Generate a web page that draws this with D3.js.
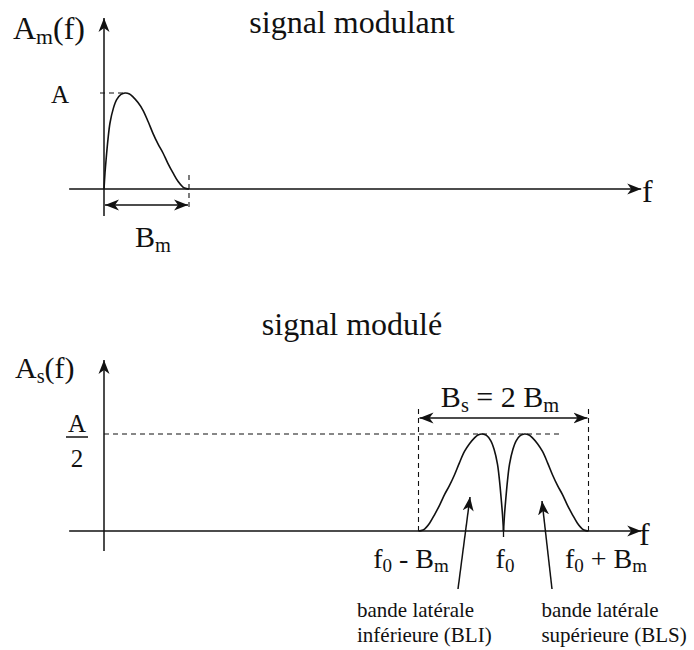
<!DOCTYPE html>
<html>
<head>
<meta charset="utf-8">
<script src="https://cdn.jsdelivr.net/npm/d3@7"></script>
<style>
  @font-face {
    font-family: "SerifLocal";
    src: local("Liberation Serif"), local("LiberationSerif"), local("LiberationSerif-Regular"), local("Times New Roman"), local("Tinos");
  }
</style>
</head>
<body style="margin:0">
<script>
// forme du spectre du signal modulant (f en unités de Bm, amplitude en unités de A)
const spectreF = [0, 0.012, 0.024, 0.047, 0.071, 0.11, 0.149, 0.2, 0.247, 0.3, 0.341, 0.4, 0.459, 0.52, 0.576, 0.635, 0.694, 0.75, 0.812, 0.87, 0.929, 0.97, 1];
const spectreA = [0, 0.17, 0.30, 0.52, 0.69, 0.84, 0.93, 0.985, 1.0, 0.99, 0.96, 0.90, 0.82, 0.70, 0.58, 0.47, 0.375, 0.27, 0.167, 0.08, 0.02, 0.004, 0];

const Bm = 1;
const f0 = 4.7;
const fMin = -0.41;
const fMax = 6.32;

const labelsBas = [
    { lignes: ["bande latérale", "inférieure (BLI)"], f: 3.0 },
    { lignes: ["bande latérale", "supérieure (BLS)"], f: 5.17 }
];

const width = 694, height = 650;

const svg = d3.select('body').append('svg')
    .attr('width', width)
    .attr('height', height);

// flèches
const defs = svg.append('defs');
defs.append('marker')
    .attr('id', 'fleche')
    .attr('viewBox', '-14 -7 16 14')
    .attr('refX', 0).attr('refY', 0)
    .attr('markerWidth', 16).attr('markerHeight', 14)
    .attr('markerUnits', 'userSpaceOnUse')
    .attr('orient', 'auto-start-reverse')
    .append('path')
    .attr('d', 'M0,0 L-14,-5.5 L-10,0 L-14,5.5 Z')
    .attr('fill', '#111');

const x = d3.scaleLinear().domain([0, Bm]).range([104, 189]);
const yHaut = d3.scaleLinear().domain([0, 1]).range([189, 93]);
const yBas = d3.scaleLinear().domain([0, 0.5]).range([531, 434]);

const pts = spectreF.map((f, i) => ({ f: f, a: spectreA[i] }));

function ligne(g, x1, y1, x2, y2, opts = {}) {
    const l = g.append('line')
        .attr('x1', x1).attr('y1', y1).attr('x2', x2).attr('y2', y2)
        .attr('stroke', '#111')
        .attr('stroke-width', opts.w || 1.5);
    if (opts.dash) l.attr('stroke-dasharray', opts.dash);
    if (opts.fin) l.attr('marker-end', 'url(#fleche)');
    if (opts.debut) l.attr('marker-start', 'url(#fleche)');
    return l;
}

function texte(g, xx, yy, parts, size, anchor) {
    const t = g.append('text')
        .attr('x', xx).attr('y', yy)
        .attr('font-size', size)
        .style('font-family', '"Liberation Serif", "SerifLocal", "Times New Roman", monospace')
        .attr('fill', '#111')
        .attr('text-anchor', anchor || 'start');
    if (typeof parts === 'string') return t.text(parts);
    parts.forEach(p => {
        const s = t.append('tspan').text(p.t);
        if (p.sub) s.attr('font-size', size * 0.68).attr('dy', size * 0.16);
        else if (p.back) s.attr('dy', -size * 0.16);
    });
    return t;
}

const dash = '5,4';

// ---------- signal modulant ----------
const gH = svg.append('g');

ligne(gH, x(0), 216, x(0), 18, { fin: true });
ligne(gH, x(fMin), yHaut(0), x(fMax), yHaut(0), { fin: true });

const pic = pts.reduce((m, d) => d.a > m.a ? d : m, pts[0]);
ligne(gH, x(0) - 4, yHaut(1), x(pic.f), yHaut(1), { dash: dash, w: 1.1 });
ligne(gH, x(Bm), yHaut(0) - 14, x(Bm), yHaut(0) + 18, { dash: dash, w: 1.1 });
ligne(gH, x(0) + 1, 205, x(Bm) - 1, 205, { fin: true, debut: true, w: 1.5 });

const courbeH = d3.line()
    .x(d => x(d.f))
    .y(d => yHaut(d.a))
    .curve(d3.curveCatmullRom.alpha(0.5));

gH.append('path')
    .datum(pts)
    .attr('d', courbeH)
    .attr('fill', 'none')
    .attr('stroke', '#111')
    .attr('stroke-width', 1.6);

texte(gH, 13, 39, [{ t: 'A' }, { t: 'm', sub: true }, { t: '(f)', back: true }], 32);
texte(gH, 51, 103, 'A', 25);
texte(gH, 135, 247, [{ t: 'B' }, { t: 'm', sub: true }], 30);
texte(gH, 352, 33, 'signal modulant', 32, 'middle');
texte(gH, 642, 202, 'f', 32);

// ---------- signal modulé ----------
const gB = svg.append('g');

ligne(gB, x(0), 551, x(0), 360, { fin: true });
ligne(gB, x(fMin), yBas(0), x(fMax), yBas(0), { fin: true });

ligne(gB, x(0), yBas(0.5), x(f0 + 0.68), yBas(0.5), { dash: dash, w: 1.1 });
ligne(gB, x(f0 - Bm), yBas(0), x(f0 - Bm), 405, { dash: dash, w: 1.1 });
ligne(gB, x(f0 + Bm), yBas(0), x(f0 + Bm), 405, { dash: dash, w: 1.1 });
ligne(gB, x(f0 - Bm) + 1, 418, x(f0 + Bm) - 1, 418, { fin: true, debut: true });
ligne(gB, x(f0), yBas(0), x(f0), yBas(0) + 6, { w: 1.3 });

const bli = pts.map(d => ({ f: f0 - d.f, a: d.a / 2 })).reverse();
const bls = pts.map(d => ({ f: f0 + d.f, a: d.a / 2 }));

const courbeB = d3.line()
    .x(d => x(d.f))
    .y(d => yBas(d.a))
    .curve(d3.curveCatmullRom.alpha(0.5));

gB.selectAll('path.bande')
    .data([bli, bls])
    .join('path')
    .attr('class', 'bande')
    .attr('d', courbeB)
    .attr('fill', 'none')
    .attr('stroke', '#111')
    .attr('stroke-width', 1.6);

// flèches vers les bandes
ligne(gB, 458, 589, 470, 497, { fin: true, w: 1.5 });
ligne(gB, 552, 589, 542, 501, { fin: true, w: 1.5 });

texte(gB, 15, 378, [{ t: 'A' }, { t: 's', sub: true }, { t: '(f)', back: true }], 30);
texte(gB, 77, 432, 'A', 25, 'middle');
ligne(gB, 66, 437, 88, 437, { w: 1.5 });
texte(gB, 77, 467, '2', 25, 'middle');

texte(gB, 352, 335, 'signal modulé', 32, 'middle');
texte(gB, 500, 407, [{ t: 'B' }, { t: 's', sub: true }, { t: ' = 2 B', back: true }, { t: 'm', sub: true }], 30, 'middle');
texte(gB, 639, 545, 'f', 32);

texte(gB, 411, 568, [{ t: 'f' }, { t: '0', sub: true }, { t: ' - B', back: true }, { t: 'm', sub: true }], 28, 'middle');
texte(gB, 505, 568, [{ t: 'f' }, { t: '0', sub: true }], 28, 'middle');
texte(gB, 606, 568, [{ t: 'f' }, { t: '0', sub: true }, { t: ' + B', back: true }, { t: 'm', sub: true }], 28, 'middle');

labelsBas.forEach(lb => {
    lb.lignes.forEach((s, i) => {
        texte(gB, x(lb.f) - 2, 617 + i * 25, s, 21);
    });
});
</script>
</body>
</html>
